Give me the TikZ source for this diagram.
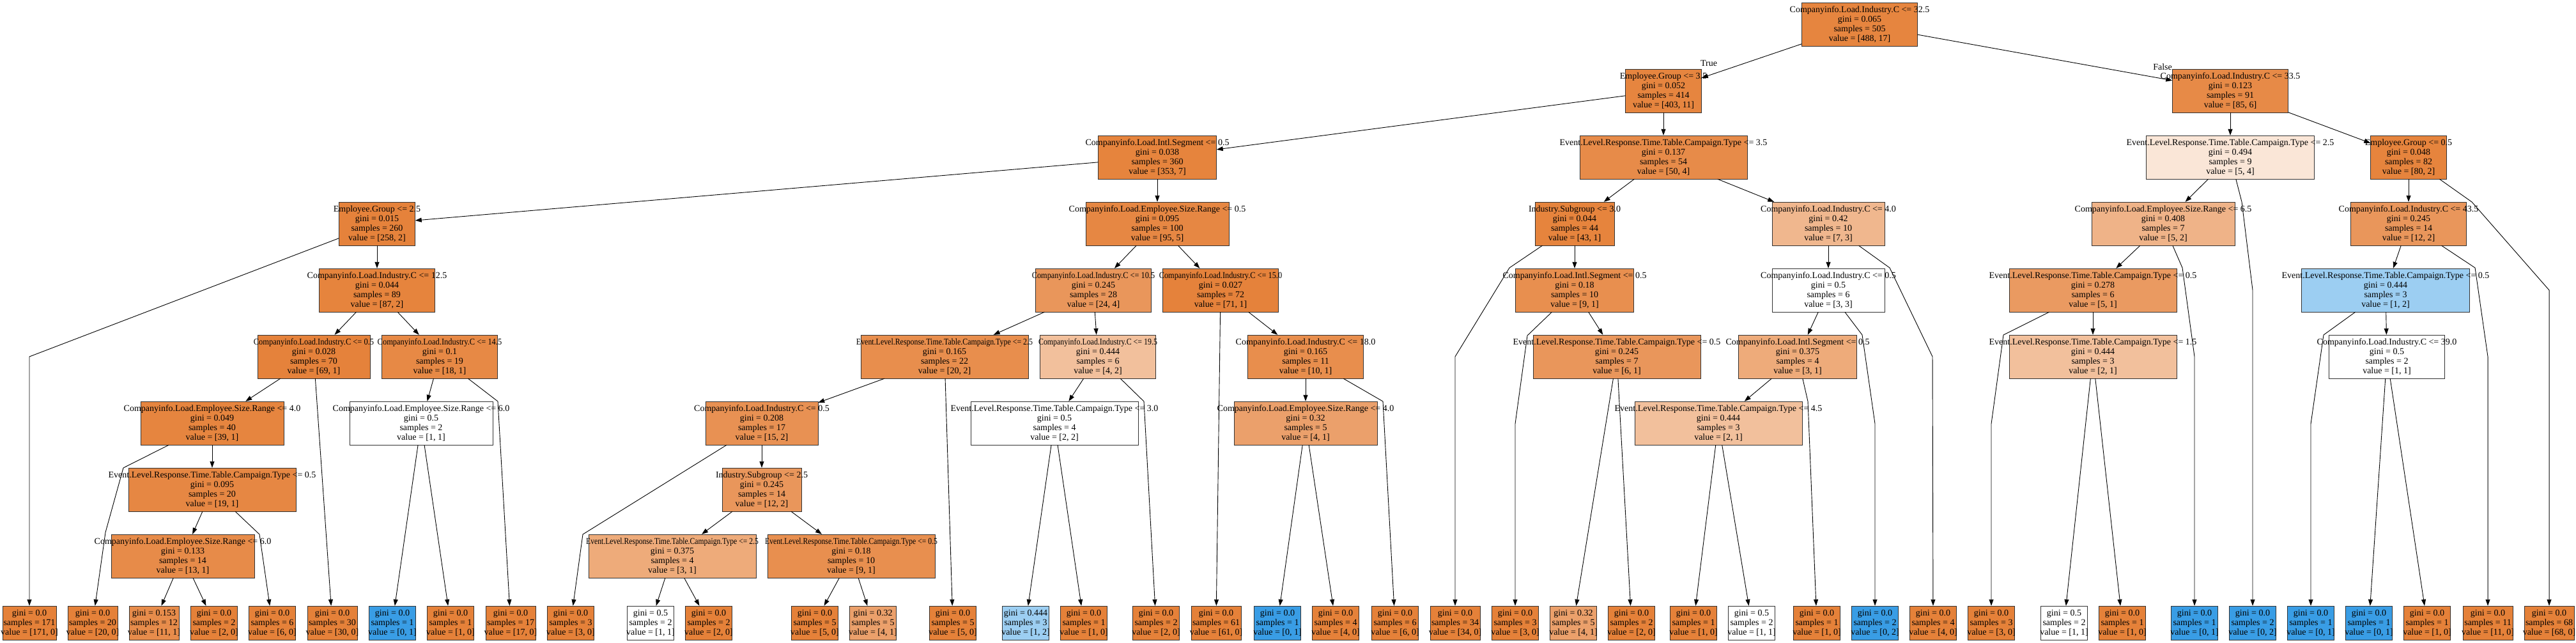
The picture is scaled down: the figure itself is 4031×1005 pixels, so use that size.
\documentclass[tikz,border=0pt]{standalone}
\usepackage{fontspec}
\setmainfont{Liberation Serif}
\usepackage{xcolor}
\usepackage{graphicx}
\usepackage{tikz}
\usetikzlibrary{arrows.meta, calc}

\definecolor{cls0}{HTML}{E58139}
\definecolor{cls1}{HTML}{399DE5}

\newcommand{\splitlabel}[4]{\makebox[0pt]{#1}\\\makebox[0pt]{gini = #2}\\\makebox[0pt]{samples = #3}\\\makebox[0pt]{value = #4}}
\newcommand{\leaflabel}[3]{\makebox[0pt]{gini = #1}\\\makebox[0pt]{samples = #2}\\\makebox[0pt]{value = #3}}
\newcommand{\evname}{Event.Level.Response.Time.Table.Campaign.Type}
\newcommand{\narrow}[2]{\scalebox{#1}[1]{#2}}

\begin{document}
\begin{tikzpicture}[
        x=1pt, y=-1pt,
        splitbox/.style={rectangle, draw=black!80, inner sep=0pt, minimum width=#1, minimum height=68pt, align=center, font=\fontsize{14pt}{15pt}\selectfont},
        leafbox/.style={rectangle, draw=black!80, inner sep=0pt, minimum width=#1, minimum height=53pt, align=center, font=\fontsize{14pt}{15pt}\selectfont},
        leafbox/.default=73pt,
        arrow/.style={-{Triangle[length=10pt, width=7pt]}, line width=0.9pt},
        branchlbl/.style={font=\fontsize{14pt}{15pt}\selectfont, inner sep=0pt}
    ]
        \useasboundingbox (0,0) rectangle (4031,1005);

        % 根节点
        \node[splitbox=181pt, fill=cls0!97] (n0) at (2910,38) {\splitlabel{Companyinfo.Load.Industry.C <= 32.5}{0.065}{505}{[488, 17]}};

        % 第一层
        \node[splitbox=119pt, fill=cls0!97] (n1) at (2603,142) {\splitlabel{Employee.Group <= 3.5}{0.052}{414}{[403, 11]}};
        \node[splitbox=181pt, fill=cls0!93] (n2) at (3490,142) {\splitlabel{Companyinfo.Load.Industry.C <= 33.5}{0.123}{91}{[85, 6]}};

        % 第二层
        \node[splitbox=185pt, fill=cls0!98] (n3) at (1811,246) {\splitlabel{Companyinfo.Load.Intl.Segment <= 0.5}{0.038}{360}{[353, 7]}};
        \node[splitbox=262pt, fill=cls0!92] (n4) at (2603,246) {\splitlabel{\evname{} <= 3.5}{0.137}{54}{[50, 4]}};
        \node[splitbox=263pt, fill=cls0!20] (n5) at (3490,246) {\splitlabel{\evname{} <= 2.5}{0.494}{9}{[5, 4]}};
        \node[splitbox=119pt, fill=cls0!98] (n6) at (3769,246) {\splitlabel{Employee.Group <= 0.5}{0.048}{82}{[80, 2]}};

        % 第三层
        \node[splitbox=119pt, fill=cls0!99] (n7) at (590,350) {\splitlabel{Employee.Group <= 2.5}{0.015}{260}{[258, 2]}};
        \node[splitbox=224pt, fill=cls0!95] (n8) at (1811,350) {\splitlabel{Companyinfo.Load.Employee.Size.Range <= 0.5}{0.095}{100}{[95, 5]}};
        \node[splitbox=124pt, fill=cls0!98] (n9) at (2464,350) {\splitlabel{Industry.Subgroup <= 3.0}{0.044}{44}{[43, 1]}};
        \node[splitbox=176pt, fill=cls0!57] (n10) at (2861,350) {\splitlabel{Companyinfo.Load.Industry.C <= 4.0}{0.42}{10}{[7, 3]}};
        \node[splitbox=224pt, fill=cls0!60] (n11) at (3385,350) {\splitlabel{Companyinfo.Load.Employee.Size.Range <= 6.5}{0.408}{7}{[5, 2]}};
        \node[splitbox=181pt, fill=cls0!83] (n12) at (3769,350) {\splitlabel{Companyinfo.Load.Industry.C <= 43.5}{0.245}{14}{[12, 2]}};

        % 第四层
        \node[splitbox=181pt, fill=cls0!98] (n13) at (590,454) {\splitlabel{Companyinfo.Load.Industry.C <= 12.5}{0.044}{89}{[87, 2]}};
        \node[splitbox=181pt, fill=cls0!83] (n14) at (1711,454) {\splitlabel{\narrow{0.88}{Companyinfo.Load.Industry.C <= 10.5}}{0.245}{28}{[24, 4]}};
        \node[splitbox=181pt, fill=cls0!99] (n15) at (1910,454) {\splitlabel{\narrow{0.88}{Companyinfo.Load.Industry.C <= 15.0}}{0.027}{72}{[71, 1]}};
        \node[splitbox=185pt, fill=cls0!89] (n16) at (2464,454) {\splitlabel{Companyinfo.Load.Intl.Segment <= 0.5}{0.18}{10}{[9, 1]}};
        \node[splitbox=176pt, fill=white] (n17) at (2861,454) {\splitlabel{Companyinfo.Load.Industry.C <= 0.5}{0.5}{6}{[3, 3]}};
        \node[splitbox=262pt, fill=cls0!80] (n18) at (3275,454) {\splitlabel{\evname{} <= 0.5}{0.278}{6}{[5, 1]}};
        \node[splitbox=263pt, fill=cls1!50] (n19) at (3733,454) {\splitlabel{\evname{} <= 0.5}{0.444}{3}{[1, 2]}};

        % 第五层
        \node[splitbox=176pt, fill=cls0!99] (n20) at (491,558) {\splitlabel{\narrow{0.89}{Companyinfo.Load.Industry.C <= 0.5}}{0.028}{70}{[69, 1]}};
        \node[splitbox=181pt, fill=cls0!94] (n21) at (688,558) {\splitlabel{\narrow{0.89}{Companyinfo.Load.Industry.C <= 14.5}}{0.1}{19}{[18, 1]}};
        \node[splitbox=262pt, fill=cls0!90] (n22) at (1478,558) {\splitlabel{\narrow{0.85}{\evname{} <= 2.5}}{0.165}{22}{[20, 2]}};
        \node[splitbox=181pt, fill=cls0!50] (n23) at (1718,558) {\splitlabel{\narrow{0.85}{Companyinfo.Load.Industry.C <= 19.5}}{0.444}{6}{[4, 2]}};
        \node[splitbox=181pt, fill=cls0!90] (n24) at (2043,558) {\splitlabel{Companyinfo.Load.Industry.C <= 18.0}{0.165}{11}{[10, 1]}};
        \node[splitbox=262pt, fill=cls0!83] (n25) at (2530,558) {\splitlabel{\evname{} <= 0.5}{0.245}{7}{[6, 1]}};
        \node[splitbox=185pt, fill=cls0!67] (n26) at (2813,558) {\splitlabel{Companyinfo.Load.Intl.Segment <= 0.5}{0.375}{4}{[3, 1]}};
        \node[splitbox=262pt, fill=cls0!50] (n27) at (3275,558) {\splitlabel{\evname{} <= 1.5}{0.444}{3}{[2, 1]}};
        \node[splitbox=181pt, fill=white] (n28) at (3735,558) {\splitlabel{Companyinfo.Load.Industry.C <= 39.0}{0.5}{2}{[1, 1]}};

        % 第六层
        \node[splitbox=224pt, fill=cls0!97] (n29) at (332,662) {\splitlabel{Companyinfo.Load.Employee.Size.Range <= 4.0}{0.049}{40}{[39, 1]}};
        \node[splitbox=224pt, fill=white] (n30) at (659,662) {\splitlabel{Companyinfo.Load.Employee.Size.Range <= 6.0}{0.5}{2}{[1, 1]}};
        \node[splitbox=176pt, fill=cls0!87] (n31) at (1192,662) {\splitlabel{Companyinfo.Load.Industry.C <= 0.5}{0.208}{17}{[15, 2]}};
        \node[splitbox=262pt, fill=white] (n32) at (1650,662) {\splitlabel{\evname{} <= 3.0}{0.5}{4}{[2, 2]}};
        \node[splitbox=224pt, fill=cls0!75] (n33) at (2043,662) {\splitlabel{Companyinfo.Load.Employee.Size.Range <= 4.0}{0.32}{5}{[4, 1]}};
        \node[splitbox=262pt, fill=cls0!50] (n34) at (2689,662) {\splitlabel{\evname{} <= 4.5}{0.444}{3}{[2, 1]}};

        % 第七、八层
        \node[splitbox=262pt, fill=cls0!95] (n35) at (332,766) {\splitlabel{\evname{} <= 0.5}{0.095}{20}{[19, 1]}};
        \node[splitbox=124pt, fill=cls0!83] (n36) at (1192,766) {\splitlabel{Industry.Subgroup <= 2.5}{0.245}{14}{[12, 2]}};
        \node[splitbox=224pt, fill=cls0!92] (n37) at (286,870) {\splitlabel{Companyinfo.Load.Employee.Size.Range <= 6.0}{0.133}{14}{[13, 1]}};
        \node[splitbox=262pt, fill=cls0!67] (n38) at (1052,870) {\splitlabel{\narrow{0.83}{\evname{} <= 2.5}}{0.375}{4}{[3, 1]}};
        \node[splitbox=262pt, fill=cls0!89] (n39) at (1332,870) {\splitlabel{\narrow{0.83}{\evname{} <= 0.5}}{0.18}{10}{[9, 1]}};

        % 叶节点
        \node[leafbox=84pt, fill=cls0] (l1) at (46,974.5) {\leaflabel{0.0}{171}{[171, 0]}};
        \node[leafbox=78pt, fill=cls0] (l2) at (145,974.5) {\leaflabel{0.0}{20}{[20, 0]}};
        \node[leafbox=78pt, fill=cls0!91] (l3) at (241,974.5) {\leaflabel{0.153}{12}{[11, 1]}};
        \node[leafbox, fill=cls0] (l4) at (335,974.5) {\leaflabel{0.0}{2}{[2, 0]}};
        \node[leafbox, fill=cls0] (l5) at (426,974.5) {\leaflabel{0.0}{6}{[6, 0]}};
        \node[leafbox=78pt, fill=cls0] (l6) at (520,974.5) {\leaflabel{0.0}{30}{[30, 0]}};
        \node[leafbox, fill=cls1] (l7) at (614,974.5) {\leaflabel{0.0}{1}{[0, 1]}};
        \node[leafbox, fill=cls0] (l8) at (705,974.5) {\leaflabel{0.0}{1}{[1, 0]}};
        \node[leafbox=78pt, fill=cls0] (l9) at (799,974.5) {\leaflabel{0.0}{17}{[17, 0]}};
        \node[leafbox, fill=cls0] (l10) at (893,974.5) {\leaflabel{0.0}{3}{[3, 0]}};
        \node[leafbox, fill=white] (l11) at (1018,974.5) {\leaflabel{0.5}{2}{[1, 1]}};
        \node[leafbox, fill=cls0] (l12) at (1109,974.5) {\leaflabel{0.0}{2}{[2, 0]}};
        \node[leafbox, fill=cls0] (l13) at (1275,974.5) {\leaflabel{0.0}{5}{[5, 0]}};
        \node[leafbox, fill=cls0!75] (l14) at (1366,974.5) {\leaflabel{0.32}{5}{[4, 1]}};
        \node[leafbox, fill=cls0] (l15) at (1491,974.5) {\leaflabel{0.0}{5}{[5, 0]}};
        \node[leafbox, fill=cls1!50] (l16) at (1605,974.5) {\leaflabel{0.444}{3}{[1, 2]}};
        \node[leafbox, fill=cls0] (l17) at (1696,974.5) {\leaflabel{0.0}{1}{[1, 0]}};
        \node[leafbox, fill=cls0] (l18) at (1809,974.5) {\leaflabel{0.0}{2}{[2, 0]}};
        \node[leafbox=78pt, fill=cls0] (l19) at (1903,974.5) {\leaflabel{0.0}{61}{[61, 0]}};
        \node[leafbox, fill=cls1] (l20) at (1999,974.5) {\leaflabel{0.0}{1}{[0, 1]}};
        \node[leafbox, fill=cls0] (l21) at (2090,974.5) {\leaflabel{0.0}{4}{[4, 0]}};
        \node[leafbox, fill=cls0] (l22) at (2183,974.5) {\leaflabel{0.0}{6}{[6, 0]}};
        \node[leafbox=78pt, fill=cls0] (l23) at (2277,974.5) {\leaflabel{0.0}{34}{[34, 0]}};
        \node[leafbox, fill=cls0] (l24) at (2371,974.5) {\leaflabel{0.0}{3}{[3, 0]}};
        \node[leafbox, fill=cls0!75] (l25) at (2462,974.5) {\leaflabel{0.32}{5}{[4, 1]}};
        \node[leafbox, fill=cls0] (l26) at (2553,974.5) {\leaflabel{0.0}{2}{[2, 0]}};
        \node[leafbox, fill=cls0] (l27) at (2650,974.5) {\leaflabel{0.0}{1}{[1, 0]}};
        \node[leafbox, fill=white] (l28) at (2741,974.5) {\leaflabel{0.5}{2}{[1, 1]}};
        \node[leafbox, fill=cls0] (l29) at (2843,974.5) {\leaflabel{0.0}{1}{[1, 0]}};
        \node[leafbox, fill=cls1] (l30) at (2934,974.5) {\leaflabel{0.0}{2}{[0, 2]}};
        \node[leafbox, fill=cls0] (l31) at (3025,974.5) {\leaflabel{0.0}{4}{[4, 0]}};
        \node[leafbox, fill=cls0] (l32) at (3116,974.5) {\leaflabel{0.0}{3}{[3, 0]}};
        \node[leafbox, fill=white] (l33) at (3230,974.5) {\leaflabel{0.5}{2}{[1, 1]}};
        \node[leafbox, fill=cls0] (l34) at (3321,974.5) {\leaflabel{0.0}{1}{[1, 0]}};
        \node[leafbox, fill=cls1] (l35) at (3434,974.5) {\leaflabel{0.0}{1}{[0, 1]}};
        \node[leafbox, fill=cls1] (l36) at (3525,974.5) {\leaflabel{0.0}{2}{[0, 2]}};
        \node[leafbox, fill=cls1] (l37) at (3616,974.5) {\leaflabel{0.0}{1}{[0, 1]}};
        \node[leafbox, fill=cls1] (l38) at (3707,974.5) {\leaflabel{0.0}{1}{[0, 1]}};
        \node[leafbox, fill=cls0] (l39) at (3798,974.5) {\leaflabel{0.0}{1}{[1, 0]}};
        \node[leafbox=78pt, fill=cls0] (l40) at (3893,974.5) {\leaflabel{0.0}{11}{[11, 0]}};
        \node[leafbox=78pt, fill=cls0] (l41) at (3989,974.5) {\leaflabel{0.0}{68}{[68, 0]}};

        % 分支标签
        \node[branchlbl] (lbltrue) at (2674,99) {True};
        \node[branchlbl] (lblfalse) at (3384,105) {False};

        % 内部节点连线
        \draw[arrow] (n0) -- (n1);
        \draw[arrow] (n0) -- (n2);
        \draw[arrow] (n1) -- (n3);
        \draw[arrow] (n1) -- (n4);
        \draw[arrow] (n2) -- (n5);
        \draw[arrow] (n2) -- (n6);
        \draw[arrow] (n3) -- (n7);
        \draw[arrow] (n3) -- (n8);
        \draw[arrow] (n4) -- (n9);
        \draw[arrow] (n4) -- (n10);
        \draw[arrow] (n5) -- (n11);
        \draw[arrow] (n6) -- (n12);
        \draw[arrow] (n7) -- (n13);
        \draw[arrow] (n8) -- (n14);
        \draw[arrow] (n8) -- (n15);
        \draw[arrow] (n9) -- (n16);
        \draw[arrow] (n10) -- (n17);
        \draw[arrow] (n11) -- (n18);
        \draw[arrow] (n12) -- (n19);
        \draw[arrow] (n13) -- (n20);
        \draw[arrow] (n13) -- (n21);
        \draw[arrow] (n14) -- (n22);
        \draw[arrow] (n14) -- (n23);
        \draw[arrow] (n15) -- (n24);
        \draw[arrow] (n16) -- (n25);
        \draw[arrow] (n17) -- (n26);
        \draw[arrow] (n18) -- (n27);
        \draw[arrow] (n19) -- (n28);
        \draw[arrow] (n20) -- (n29);
        \draw[arrow] (n21) -- (n30);
        \draw[arrow] (n22) -- (n31);
        \draw[arrow] (n23) -- (n32);
        \draw[arrow] (n24) -- (n33);
        \draw[arrow] (n26) -- (n34);
        \draw[arrow] (n29) -- (n35);
        \draw[arrow] (n31) -- (n36);
        \draw[arrow] (n35) -- (n37);
        \draw[arrow] (n36) -- (n38);
        \draw[arrow] (n36) -- (n39);

        % 到叶节点的连线
        \draw[arrow] (n7) -- (46,558) -- (l1);
        \draw[arrow] (n29) -- (193,732) -- (165,833) -- (l2);
        \draw[arrow] (n37) -- (l3);
        \draw[arrow] (n37) -- (l4);
        \draw[arrow] (n35) -- (406,836) -- (l5);
        \draw[arrow] (n20) -- (l6);
        \draw[arrow] (n30) -- (l7);
        \draw[arrow] (n30) -- (l8);
        \draw[arrow] (n21) -- (779,628) -- (l9);
        \draw[arrow] (n31) -- (912,836) -- (l10);
        \draw[arrow] (n38) -- (l11);
        \draw[arrow] (n38) -- (l12);
        \draw[arrow] (n39) -- (l13);
        \draw[arrow] (n39) -- (l14);
        \draw[arrow] (n22) -- (l15);
        \draw[arrow] (n32) -- (l16);
        \draw[arrow] (n32) -- (l17);
        \draw[arrow] (n23) -- (1790,628) -- (l18);
        \draw[arrow] (n15) -- (l19);
        \draw[arrow] (n33) -- (l20);
        \draw[arrow] (n33) -- (l21);
        \draw[arrow] (n24) -- (2164,628) -- (l22);
        \draw[arrow] (n9) -- (2362,419) -- (2277,558) -- (l23);
        \draw[arrow] (n16) -- (2390,525) -- (2371,663) -- (l24);
        \draw[arrow] (n25) -- (l25);
        \draw[arrow] (n25) -- (l26);
        \draw[arrow] (n34) -- (l27);
        \draw[arrow] (n34) -- (l28);
        \draw[arrow] (n26) -- (2829,628) -- (l29);
        \draw[arrow] (n17) -- (2914,524) -- (2934,663) -- (l30);
        \draw[arrow] (n10) -- (2957,419) -- (3024,558) -- (l31);
        \draw[arrow] (n18) -- (3135,524) -- (3116,663) -- (l32);
        \draw[arrow] (n27) -- (l33);
        \draw[arrow] (n27) -- (l34);
        \draw[arrow] (n11) -- (3415,419) -- (3434,558) -- (l35);
        \draw[arrow] (n5) -- (3508,316) -- (3525,454) -- (l36);
        \draw[arrow] (n19) -- (3636,524) -- (3616,663) -- (l37);
        \draw[arrow] (n28) -- (l38);
        \draw[arrow] (n28) -- (l39);
        \draw[arrow] (n12) -- (3873,419) -- (3893,558) -- (l40);
        \draw[arrow] (n6) -- (3868,316) -- (3989,454) -- (l41);
    \end{tikzpicture}
\end{document}
